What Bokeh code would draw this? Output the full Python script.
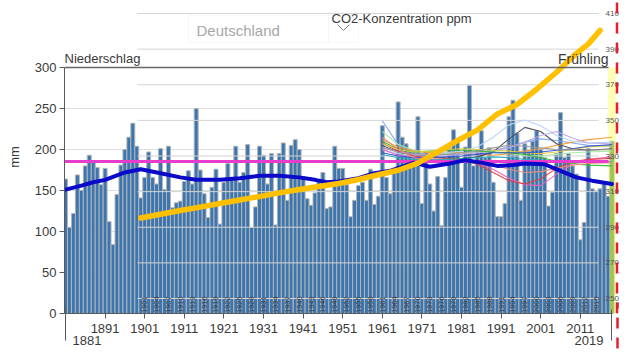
import math
from bokeh.plotting import figure
from bokeh.models import (Range1d, LinearAxis, FixedTicker, BoxAnnotation, Label,
                          LabelSet, ColumnDataSource, Arrow)
from bokeh.core.properties import value
from bokeh.embed import file_html
from bokeh.resources import INLINE

# ---------------- data ----------------
years = list(range(1881, 2020))
precip = [
    164, 105, 122, 169, 150, 180, 193, 185, 178, 157,   # 1881-1890
    177, 112, 84, 145, 181, 200, 215, 232, 204, 141,    # 1891-1900
    166, 197, 166, 158, 201, 151, 204, 129, 135, 137,   # 1901-1910
    161, 174, 158, 250, 175, 146, 117, 154, 176, 109,   # 1911-1920
    160, 183, 165, 204, 160, 172, 206, 105, 130, 204,   # 1921-1930
    193, 158, 195, 108, 195, 208, 138, 205, 212, 200,   # 1931-1940
    167, 140, 132, 147, 162, 172, 128, 130, 204, 177,   # 1941-1950
    177, 157, 118, 138, 156, 160, 138, 176, 133, 143,   # 1951-1960
    229, 166, 146, 172, 258, 215, 207, 200, 199, 240,   # 1961-1970
    134, 197, 158, 125, 167, 107, 166, 201, 224, 210,   # 1971-1980
    154, 203, 278, 180, 200, 223, 190, 202, 160, 118,   # 1981-1990
    118, 134, 240, 260, 220, 138, 207, 198, 210, 223,   # 1991-2000
    200, 190, 131, 148, 195, 245, 190, 195, 180, 170,   # 2001-2010
    90, 111, 201, 152, 149, 152, 158, 143, 210,         # 2011-2019
]
highlight_year = 2019
mean_precip = 185.5

smooth_years = [1881, 1885, 1888, 1891, 1896, 1900, 1905, 1910, 1914, 1920, 1925,
                1930, 1935, 1940, 1944, 1947, 1950, 1955, 1959, 1963, 1966, 1969,
                1973, 1978, 1982, 1986, 1990, 1994, 1997, 2002, 2006, 2010, 2014, 2019]
smooth_vals = [151, 156, 160, 163, 172, 176, 171, 166, 163, 163, 165,
               168, 168, 166, 163, 160, 161, 165, 171, 174, 179, 184,
               179, 183, 187, 184, 180, 181, 183, 182, 174, 166, 162, 158]

co2_years = [1900, 1905, 1910, 1915, 1920, 1925, 1930, 1935, 1940, 1945, 1950, 1955,
             1960, 1965, 1970, 1975, 1980, 1985, 1990, 1995, 2000, 2005, 2010, 2013, 2016]
co2_vals = [295.2, 297.3, 299.4, 301.3, 303.3, 305.3, 307.3, 309.3, 311.2, 312.9, 314.6,
            316.8, 319.5, 322.0, 326.0, 332.3, 338.7, 344.5, 353.5, 358.9, 367.5, 377.0,
            387.5, 392.8, 400.5]

region_years = [1961, 1965, 1969, 1973, 1977, 1981, 1985, 1989, 1993, 1997, 2001, 2005, 2009, 2013, 2019]
region_a = [235, 206, 197, 193, 194, 196, 197, 199, 203, 209, 213, 211, 208, 205, 204]
region_b = [222, 206, 199, 196, 195, 196, 197, 196, 195, 193, 192, 194, 196, 197, 198]
region_c = [212, 203, 198, 196, 197, 196, 194, 193, 195, 198, 201, 205, 209, 212, 215]
region_d = [205, 197, 193, 192, 190, 189, 191, 197, 213, 227, 222, 207, 201, 199, 201]
region_e = [200, 195, 193, 194, 196, 198, 203, 215, 230, 236, 229, 217, 210, 208, 209]
region_f = [203, 197, 194, 193, 193, 194, 196, 198, 202, 209, 217, 222, 214, 208, 207]
region_g = [200, 193, 190, 188, 187, 186, 183, 176, 165, 157, 156, 170, 182, 188, 191]
region_h = [208, 198, 192, 190, 189, 188, 182, 172, 162, 158, 164, 177, 185, 188, 189]
region_i = [210, 200, 197, 198, 199, 199, 198, 197, 196, 194, 190, 186, 183, 181, 180]
region_j = [207, 200, 197, 198, 200, 201, 200, 199, 198, 196, 195, 197, 200, 203, 205]
region_k = [196, 192, 190, 190, 191, 192, 194, 196, 196, 196, 197, 199, 201, 204, 206]
region_l = [202, 197, 195, 194, 194, 196, 198, 202, 205, 204, 202, 200, 199, 199, 200]
region_m = [194, 190, 188, 187, 188, 189, 190, 191, 190, 188, 187, 186, 186, 185, 185]
region_n = [215, 200, 190, 186, 185, 186, 185, 181, 176, 172, 173, 177, 181, 183, 184]

mm_ticks = [0, 50, 100, 150, 200, 250, 300]
co2_ticks = [250, 270, 290, 310, 330, 350, 370, 390, 410]
decade_ticks = [1891, 1901, 1911, 1921, 1931, 1941, 1951, 1961, 1971, 1981, 1991, 2001, 2011]
end_ticks = [years[0], years[-1]]
overlay_tick_years = list(range(1901, 2016, 3))

# ---------------- layout (pixel measurements of the reference) ----------------
W, H = 640, 355
PX_1881, PX_PER_YEAR = 65.0, 3.96
PX_ZERO_MM, PX_PER_MM = 313.0, 0.82
PX_410, PX_PER_PPM = 13.0, 1.78125


def yr(px):
    return 1881 + (px - PX_1881) / PX_PER_YEAR


def mm(py):
    return (PX_ZERO_MM - py) / PX_PER_MM


def ppm(py):
    return 410 - (py - PX_410) / PX_PER_PPM


FONT = "Liberation Sans"
TXT = "#3a3a3a"
AXC = "#5a5a5a"
BAR = "#3b76b1"
HIGHLIGHT = "#9acd32"
RED = "#e4202c"
region_colors = ["#7fa8e8", "#a8e8a0", "#f59a3a", "#4a4a5a", "#b4d4fa", "#bda5ee", "#f25cbd",
                 "#e63c3c", "#2fbf2f", "#e2cc3a", "#3553d4", "#9c9c9c", "#2aaebe", "#f28a78"]
region_values = [region_a, region_b, region_c, region_d, region_e, region_f, region_g,
                 region_h, region_i, region_j, region_k, region_l, region_m, region_n]

p = figure(width=W, height=H, x_range=Range1d(yr(64), yr(620)), y_range=Range1d(0, mm(0)),
           output_backend="svg", toolbar_location=None,
           min_border_left=64, min_border_right=20, min_border_top=0, min_border_bottom=42)
p.extra_y_ranges = {"co2": Range1d(ppm(313), ppm(0))}
p.outline_line_color = None
p.background_fill_color = "white"
p.border_fill_color = "white"
p.xgrid.visible = False
p.ygrid.ticker = FixedTicker(ticks=[t for t in mm_ticks if 0 < t < 300])
p.ygrid.grid_line_color = "#dedede"

# left axis
ya = p.yaxis[0]
ya.ticker = FixedTicker(ticks=mm_ticks)
ya.bounds = (0, 300)
ya.axis_line_color = AXC
ya.major_tick_line_color = AXC
ya.minor_tick_line_color = None
ya.major_tick_out = 5
ya.major_tick_in = 0
ya.major_label_text_font = FONT
ya.major_label_text_font_size = "13px"
ya.major_label_text_color = TXT
ya.major_label_standoff = 3
ya.axis_label = "mm"
ya.axis_label_text_font = FONT
ya.axis_label_text_font_style = "normal"
ya.axis_label_text_font_size = "13px"
ya.axis_label_text_color = TXT
ya.axis_label_standoff = 10

# bottom axis (decades)
xa = p.xaxis[0]
xa.ticker = FixedTicker(ticks=decade_ticks)
xa.bounds = (yr(64), yr(612))
xa.axis_line_color = AXC
xa.major_tick_line_color = AXC
xa.minor_tick_line_color = None
xa.major_tick_out = 5
xa.major_tick_in = 0
xa.minor_tick_out = 0
xa.major_label_text_font = FONT
xa.major_label_text_font_size = "13px"
xa.major_label_text_color = TXT
xa.major_label_standoff = 5

# second bottom axis: first / last year with bracket ticks
lab_pos = [yr(86.5), yr(588.5)]
ea = LinearAxis(ticker=FixedTicker(ticks=lab_pos, minor_ticks=end_ticks))
ea.axis_line_color = None
ea.major_tick_line_color = None
ea.major_tick_out = 0
ea.major_tick_in = 0
ea.minor_tick_line_color = AXC
ea.minor_tick_in = 26
ea.minor_tick_out = 5
ea.major_label_overrides = {lab_pos[0]: str(end_ticks[0]), lab_pos[1]: str(end_ticks[1])}
ea.major_label_standoff = -5
ea.major_label_text_font = FONT
ea.major_label_text_font_size = "13px"
ea.major_label_text_color = TXT
p.add_layout(ea, "below")

# third bottom axis: carries the red marker line below the frame
red_x = yr(616.5)
rda = LinearAxis(ticker=FixedTicker(ticks=[], minor_ticks=[red_x]))
rda.axis_line_color = None
rda.major_tick_line_color = None
rda.major_tick_out = 0
rda.major_tick_in = 0
rda.major_label_text_font_size = "0px"
rda.major_label_standoff = 0
rda.minor_tick_line_color = RED
rda.minor_tick_line_width = 2.5
rda.minor_tick_line_dash = "11 9"
rda.minor_tick_in = 45
rda.minor_tick_out = 1
p.add_layout(rda, "below")

# right (CO2) axis
ra = LinearAxis(y_range_name="co2", ticker=FixedTicker(ticks=co2_ticks))
ra.axis_line_color = None
ra.major_tick_line_color = None
ra.minor_tick_line_color = None
ra.major_tick_out = 0
ra.major_tick_in = 0
ra.major_label_standoff = -15
ra.major_label_text_font = FONT
ra.major_label_text_font_size = "8px"
ra.major_label_text_color = "#555555"
p.add_layout(ra, "right")

# highlight column for the selected year
p.add_layout(BoxAnnotation(left=yr(607.5), right=yr(615.5), bottom=0, top=300,
                           fill_color="#ffffb8", fill_alpha=1, line_color=None, level="underlay"))

# bars
bar_colors = [HIGHLIGHT if y == highlight_year else BAR for y in years]
src = ColumnDataSource(dict(year=years, precip=precip, color=bar_colors))
p.vbar(x="year", top="precip", width=1.0, source=src, fill_color="color",
       line_color="#b4b4b4", line_width=1)

# overlay (CO2 chart) grid lines
p.multi_line(xs=[[yr(137), yr(598)] for _ in co2_ticks], ys=[[t, t] for t in co2_ticks],
             y_range_name="co2", line_color="#d4d4d4", line_width=1)

# regional lines
for vals, col in zip(region_values, region_colors):
    p.line(region_years, vals, line_color=col, line_width=1.1, line_alpha=0.95)

# mean line
p.line([yr(64), yr(608)], [mean_precip, mean_precip], line_color="#e83ccc", line_width=3)

# smoothed line
p.line(smooth_years, smooth_vals, line_color="#0a0ac8", line_width=4,
       line_join="round", line_cap="round")

# CO2 line
p.line(co2_years, co2_vals, y_range_name="co2", line_color="#ffc000", line_width=5.5,
       line_join="round", line_cap="round")

# top frame line
p.line([yr(64), yr(608)], [300, 300], line_color="#666666", line_width=1.5)

# overlay small rotated year labels
osrc = ColumnDataSource(dict(year=overlay_tick_years,
                             y=[mm(312.5)] * len(overlay_tick_years),
                             label=[str(y) for y in overlay_tick_years]))
p.add_layout(LabelSet(x="year", y="y", text="label", source=osrc, angle=math.pi / 2,
                      text_font=value(FONT), text_font_size="7.5px", text_color="#3c3c3c",
                      text_align="left", text_baseline="middle"))

# red dashed marker line (inside the frame)
p.add_layout(Arrow(x_start=red_x, y_start=mm(313), x_end=red_x, y_end=mm(0), end=None,
                   line_color=RED, line_width=2.5, line_dash="11 9"))

# titles
p.add_layout(Label(x=yr(64), y=mm(58), text="Niederschlag", text_font=FONT, text_font_size="13px",
                   text_color=TXT, text_align="left", text_baseline="alphabetic"))
p.add_layout(Label(x=yr(608), y=mm(58), text="Frühling", text_font=FONT, text_font_size="14px",
                   text_color=TXT, text_align="right", text_baseline="alphabetic"))

# dropdown
p.add_layout(BoxAnnotation(left=yr(188), right=yr(328), top=mm(15), bottom=mm(42),
                           fill_color="white", fill_alpha=1, line_color="#e4e4e4", line_width=1))
p.add_layout(BoxAnnotation(left=yr(328), right=yr(358), top=mm(15), bottom=mm(42),
                           fill_color="white", fill_alpha=1, line_color="#e4e4e4", line_width=1))
p.add_layout(Label(x=yr(196), y=mm(30), text="Deutschland", text_font=FONT, text_font_size="15px",
                   text_color="#a8a8a8", text_align="left", text_baseline="alphabetic"))
for a, b in (((337, 24), (343, 30)), ((343, 30), (349, 24))):
    p.add_layout(Arrow(x_start=yr(a[0]), y_start=mm(a[1]), x_end=yr(b[0]), y_end=mm(b[1]), end=None,
                       line_color="#808080", line_width=1))
p.add_layout(Label(x=yr(331), y=mm(18), text="CO2-Konzentration ppm", text_font=FONT,
                   text_font_size="13px", text_color=TXT, text_align="left", text_baseline="alphabetic"))

open("out.html", "w").write(file_html(p, INLINE))
